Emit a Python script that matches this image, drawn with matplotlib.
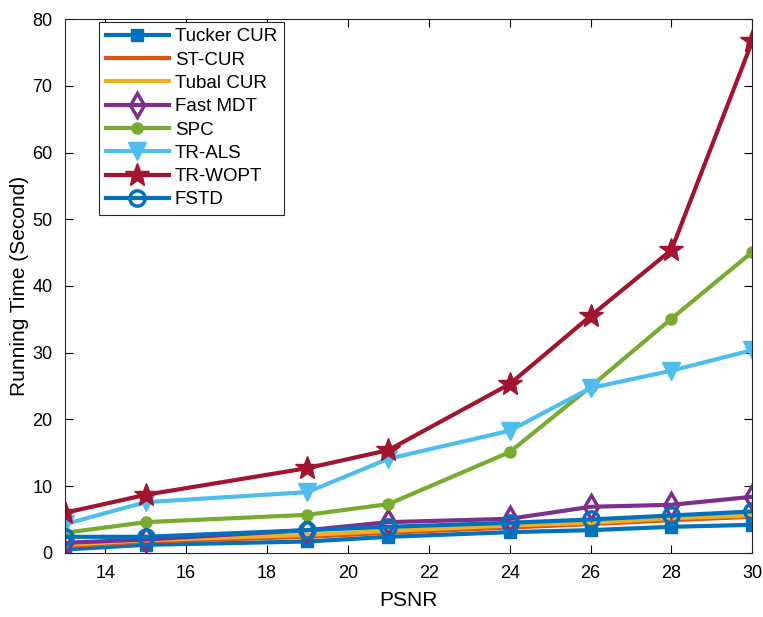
import numpy as np
import matplotlib
matplotlib.use('Agg')
import matplotlib.pyplot as plt

plt.rcParams['font.family'] = ['Liberation Sans', 'DejaVu Sans']

psnr = [13, 15, 19, 21, 24, 26, 28, 30]

tucker_cur = [0.5, 1.2, 1.7, 2.4, 3.1, 3.4, 3.9, 4.2]
st_cur = [1.0, 1.7, 2.4, 3.0, 3.8, 4.3, 4.9, 5.4]
tubal_cur = [1.2, 1.9, 2.7, 3.3, 4.1, 4.5, 5.2, 5.6]
fast_mdt = [1.5, 2.0, 3.4, 4.6, 5.1, 6.9, 7.2, 8.4]
spc = [3.0, 4.6, 5.7, 7.3, 15.1, 24.9, 35.1, 45.1]
tr_als = [4.3, 7.6, 9.1, 14.1, 18.3, 24.7, 27.3, 30.4]
tr_wopt = [6.0, 8.7, 12.7, 15.4, 25.3, 35.5, 45.4, 76.7]
fstd = [2.4, 2.4, 3.4, 3.9, 4.5, 5.0, 5.6, 6.2]

fig = plt.figure(figsize=(7.63, 6.17), dpi=100)
ax = fig.add_axes([0.085, 0.104, 0.901, 0.865])

lw = 3
ax.plot(psnr, tucker_cur, color='#0072BD', lw=lw, marker='s', ms=9, label='Tucker CUR')
ax.plot(psnr, st_cur, color='#D95319', lw=lw, label='ST-CUR')
ax.plot(psnr, tubal_cur, color='#EDB120', lw=lw, label='Tubal CUR')
ax.plot(psnr, fast_mdt, color='#7E2F8E', lw=lw, marker='d', ms=12, mfc='none', mew=2.5, label='Fast MDT')
ax.plot(psnr, spc, color='#77AC30', lw=lw, marker='o', ms=8, label='SPC')
ax.plot(psnr, tr_als, color='#4DBEEE', lw=lw, marker='v', ms=13, label='TR-ALS')
ax.plot(psnr, tr_wopt, color='#A2142F', lw=lw, marker='*', ms=18, label='TR-WOPT')
ax.plot(psnr, fstd, color='#0072BD', lw=lw, marker='o', ms=11, mfc='none', mew=2.5, label='FSTD')

ax.set_xlim(13, 30)
ax.set_ylim(0, 80)
ax.set_xticks([14, 16, 18, 20, 22, 24, 26, 28, 30])
ax.set_yticks(np.arange(0, 81, 10))
ax.tick_params(direction='in', labelsize=13, length=6, pad=9, top=True, right=True,
               labeltop=False, labelright=False)
ax.set_xlabel('PSNR', fontsize=15, labelpad=6)
ax.set_ylabel('Running Time (Second)', fontsize=15, labelpad=2)
for s in ax.spines.values():
    s.set_linewidth(0.8)
    s.set_color('#262626')

leg = ax.legend(loc='upper left', bbox_to_anchor=(0.036, 1.013), fontsize=13.5, frameon=True,
                fancybox=False, edgecolor='#262626', handlelength=3.4, labelspacing=0.33,
                borderpad=0.35, handletextpad=0.3, framealpha=1)
leg.get_frame().set_linewidth(0.8)

fig.savefig('out.png', dpi=100)
